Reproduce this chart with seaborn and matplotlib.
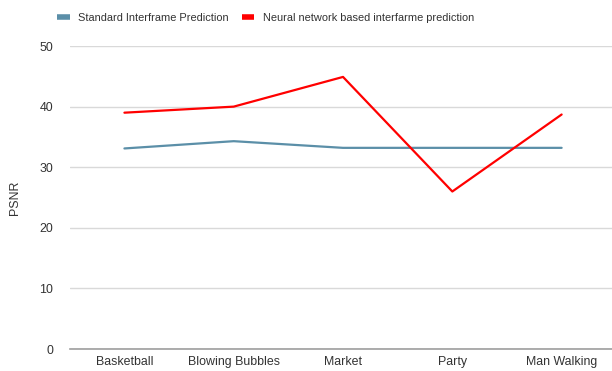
import matplotlib
matplotlib.use("Agg")
import matplotlib.pyplot as plt
import seaborn as sns
import pandas as pd

# Video sequences and PSNR per method
sequences = ["Basketball", "Blowing Bubbles", "Market", "Party", "Man Walking"]
standard_psnr = [33.1, 34.3, 33.2, 33.2, 33.2]
neural_psnr = [39.0, 40.0, 44.9, 26.0, 38.7]
series_names = ["Standard Interframe Prediction", "Neural network based interfarme prediction"]
y_ticks = [0, 10, 20, 30, 40, 50]

df = pd.DataFrame({
    "Sequence": sequences * 2,
    "PSNR": standard_psnr + neural_psnr,
    "Method": [series_names[0]] * len(sequences) + [series_names[1]] * len(sequences),
})

sns.set_theme(style="white")
plt.rcParams["font.family"] = ["Liberation Sans", "DejaVu Sans"]

fig = plt.figure(figsize=(6.12, 3.71), dpi=100)
ax = fig.add_axes([0.114, 0.059, 0.893, 0.817])

palette = {series_names[0]: "#5b8fa8", series_names[1]: "#ff0000"}
sns.lineplot(data=df, x="Sequence", y="PSNR", hue="Method", palette=palette,
             linewidth=1.6, sort=False, ax=ax)

ax.set_xlim(-0.5, 4.5)
ax.set_ylim(0, 50)
ax.set_yticks(y_ticks)
ax.yaxis.grid(True, color="#d9d9d9", linewidth=1.0)
ax.set_axisbelow(True)
for side in ["top", "right", "left"]:
    ax.spines[side].set_visible(False)
ax.spines["bottom"].set_color("#9e9e9e")
ax.spines["bottom"].set_linewidth(1.2)
ax.tick_params(axis="both", length=0, labelsize=8.9, colors="#333333")
ax.tick_params(axis="y", pad=12)
ax.tick_params(axis="x", pad=5)
ax.set_xlabel("")
ax.set_ylabel("PSNR", fontsize=8.9, color="#333333", labelpad=22)
ax.yaxis.set_label_coords(-0.09, 0.5)

handles, labels = ax.get_legend_handles_labels()
ax.legend_.remove()
leg = fig.legend(handles, labels, loc="center", bbox_to_anchor=(0.434, 0.952),
                 ncol=2, frameon=False, fontsize=7.9, handlelength=1.1,
                 handletextpad=0.73, columnspacing=1.3, labelcolor="#333333")
for line in leg.get_lines():
    line.set_linewidth(4.0)
    line.set_solid_capstyle("butt")

fig.savefig("out.png", dpi=100)
